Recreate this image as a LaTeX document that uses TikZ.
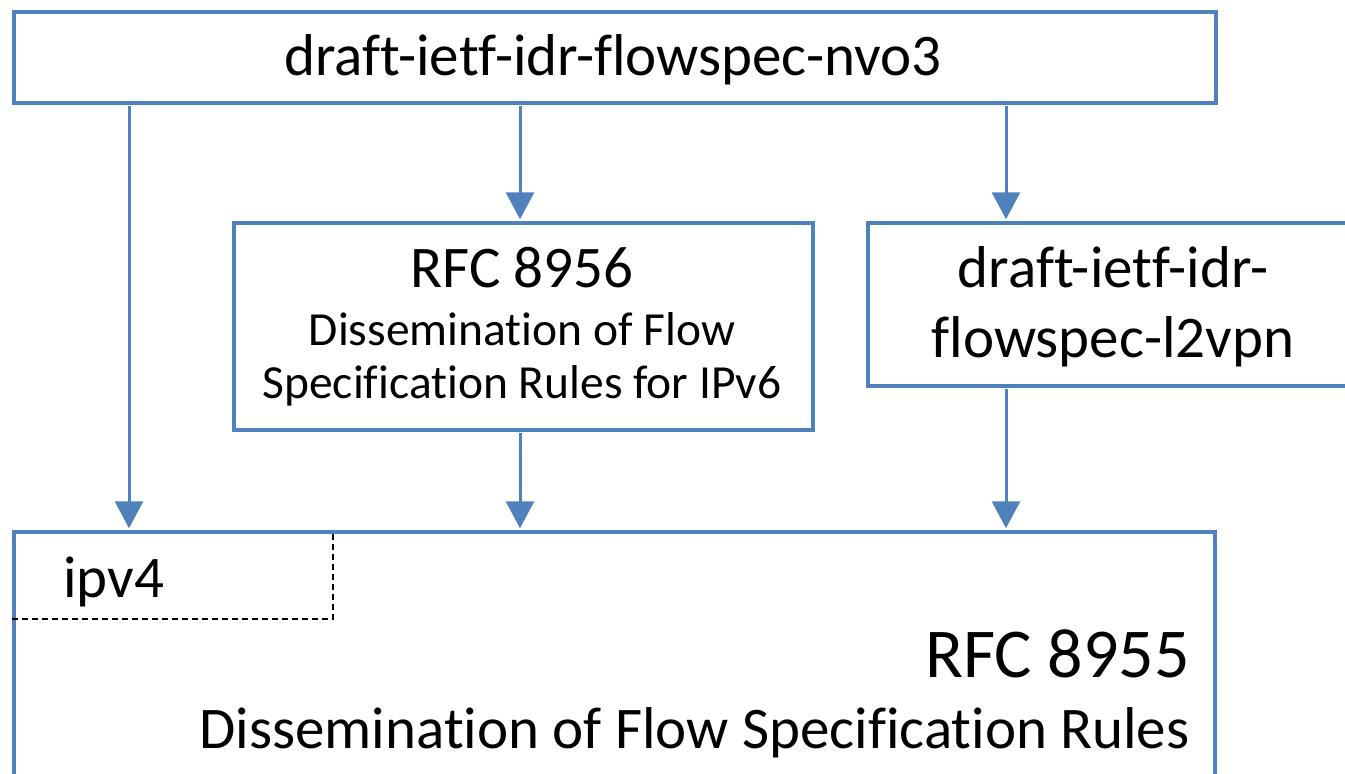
\documentclass[tikz,border=0pt]{standalone}
\usepackage{fontspec}
\setmainfont{Carlito}[Ligatures=NoCommon]
\usetikzlibrary{arrows.meta}
\definecolor{boxblue}{RGB}{79,129,189}
\tikzset{
  box/.style={draw=boxblue, line width=3.5pt, fill=white, rectangle, inner sep=0pt, anchor=north west},
  arr/.style={draw=boxblue, line width=3pt, -{Triangle[width=28pt,length=27pt]}},
  dashline/.style={draw=black, line width=1.8pt, dash pattern=on 6pt off 4pt},
  big/.style={font=\fontsize{59}{70}\selectfont, inner sep=0pt},
  bigger/.style={font=\fontsize{70}{83}\selectfont, inner sep=0pt},
  small/.style={font=\fontsize{47.5}{56}\selectfont, inner sep=0pt}
}
\begin{document}
\begin{tikzpicture}[x=1pt,y=-1pt]
\useasboundingbox (0,0) rectangle (1345,774);
% boxes
\node[box, minimum width=1202pt, minimum height=91pt] (top) at (12,10) {};
\node[box, minimum width=579pt, minimum height=207pt] (rfcsix) at (232,221) {};
\node[box, minimum width=494pt, minimum height=163pt] (ltwo) at (866,221) {};
\node[box, minimum width=1201pt, minimum height=270pt] (main) at (12,530) {};
% texts
\node[big, anchor=base] (toptext) at (613,75) {draft-ietf-idr-flowspec-nvo3};
\node[big, anchor=base] (rfcsixa) at (522,287) {RFC 8956};
\node[small, anchor=base] (rfcsixb) at (522,345) {Dissemination of Flow};
\node[small, anchor=base] (rfcsixc) at (522,398) {Specification Rules for IPv6};
\node[big, anchor=base] (ltwoa) at (1113,287) {draft-ietf-idr-};
\node[big, anchor=base] (ltwob) at (1113,357) {flowspec-l2vpn};
\node[big, anchor=base west] (ipv) at (63,597) {ipv4};
\node[bigger, anchor=base east] (rfcfive) at (1190,677) {RFC 8955};
\node[big, anchor=base east] (rfcfiveb) at (1190,748) {Dissemination of Flow Specification Rules};
% dashed ipv4 region
\coordinate (dc) at (333,619);
\draw[dashline] (main.west |- dc) -- (dc) -- ([yshift=-3pt]dc |- main.north);
% arrows
\coordinate (xl) at (129,0);
\coordinate (xm) at (520,0);
\coordinate (xr) at (1006,0);
\draw[arr] ([yshift=-1.75pt]top.south -| xl) -- ([yshift=1.75pt]main.north -| xl);
\draw[arr] ([yshift=-1.75pt]top.south -| xm) -- ([yshift=1.75pt]rfcsix.north -| xm);
\draw[arr] ([yshift=-1.75pt]top.south -| xr) -- ([yshift=1.75pt]ltwo.north -| xr);
\draw[arr] ([yshift=-1.75pt]rfcsix.south -| xm) -- ([yshift=1.75pt]main.north -| xm);
\draw[arr] ([yshift=-1.75pt]ltwo.south -| xr) -- ([yshift=1.75pt]main.north -| xr);
\end{tikzpicture}
\end{document}
